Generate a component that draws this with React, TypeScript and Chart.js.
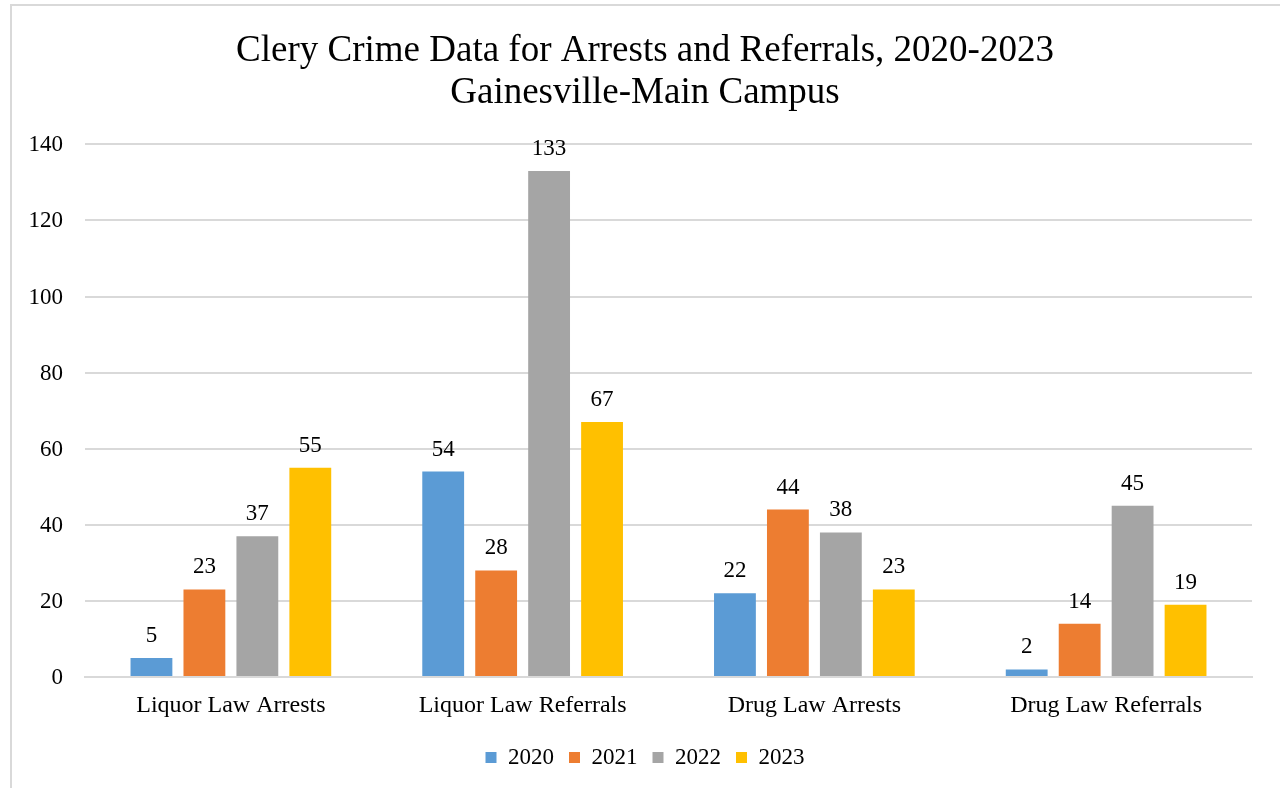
import React, { useEffect, useRef } from "react";
import { Chart, registerables } from "chart.js";

Chart.register(...registerables);

const categories = ["Liquor Law Arrests", "Liquor Law Referrals", "Drug Law Arrests", "Drug Law Referrals"];
const seriesNames = ["2020", "2021", "2022", "2023"];
const values2020 = [5, 54, 22, 2];
const values2021 = [23, 28, 44, 14];
const values2022 = [37, 133, 38, 45];
const values2023 = [55, 67, 23, 19];
const seriesColors = ["#5B9BD5", "#ED7D31", "#A5A5A5", "#FFC000"];
const titleLines = ["Clery Crime Data for Arrests and Referrals, 2020-2023", "Gainesville-Main Campus"];
const yMin = 0;
const yMax = 140;
const yStep = 20;

const FONT = "'Liberation Serif', 'Times New Roman', serif";

const dataLabelPlugin = {
  id: "dataLabels",
  afterDatasetsDraw(chart: any) {
    const ctx = chart.ctx;
    ctx.save();
    ctx.font = `23px ${FONT}`;
    ctx.fillStyle = "#000";
    ctx.textAlign = "center";
    ctx.textBaseline = "alphabetic";
    chart.data.datasets.forEach((ds: any, i: number) => {
      const meta = chart.getDatasetMeta(i);
      meta.data.forEach((el: any, j: number) => {
        ctx.fillText(String(ds.data[j]), el.x, el.y - 16);
      });
    });
    ctx.restore();
  },
};

// Y tick labels drawn from the library's scale ticks (avoids clipping to the narrow axis box)
const yLabelPlugin = {
  id: "yLabels",
  afterDraw(chart: any) {
    const scale = chart.scales.y;
    const ctx = chart.ctx;
    ctx.save();
    ctx.font = `23px ${FONT}`;
    ctx.fillStyle = "#000";
    ctx.textAlign = "right";
    ctx.textBaseline = "middle";
    scale.ticks.forEach((t: any) => {
      ctx.fillText(String(t.value), chart.chartArea.left - 22, scale.getPixelForValue(t.value) + 1);
    });
    ctx.restore();
  },
};

export default function App() {
  const ref = useRef<HTMLCanvasElement | null>(null);
  useEffect(() => {
    if (!ref.current) return;
    const allValues = [values2020, values2021, values2022, values2023];
    const chart = new Chart(ref.current, {
      type: "bar",
      data: {
        labels: categories,
        datasets: seriesNames.map((name, i) => ({
          label: name,
          data: allValues[i],
          backgroundColor: seriesColors[i],
          borderWidth: 0,
          categoryPercentage: 0.726,
          barPercentage: 0.79,
        })),
      },
      options: {
        responsive: false,
        animation: false,
        layout: { padding: { left: 38, right: 28, top: 0, bottom: 9 } },
        plugins: {
          title: {
            display: true,
            text: titleLines,
            color: "#000",
            font: { family: FONT, size: 37, weight: "normal", lineHeight: 1.14 },
            padding: { top: 30, bottom: 30 },
          },
          legend: {
            position: "bottom",
            labels: {
              color: "#000",
              font: { family: FONT, size: 23 },
              boxWidth: 11,
              boxHeight: 11,
              padding: 15,
            },
          },
          tooltip: { enabled: false },
        },
        scales: {
          x: {
            grid: { display: false, drawTicks: false },
            border: { display: true, color: "#d9d9d9", width: 2 },
            ticks: { color: "#000", font: { family: FONT, size: 24 }, padding: 14, maxRotation: 0 },
            afterFit(scale: any) {
              scale.height = 54;
            },
          },
          y: {
            min: yMin,
            max: yMax,
            grid: { color: "#d9d9d9", lineWidth: 2, drawTicks: false },
            border: { display: false },
            ticks: { stepSize: yStep, display: false },
            afterFit(scale: any) {
              scale.width = 47;
            },
          },
        },
      },
      plugins: [dataLabelPlugin, yLabelPlugin],
    });
    return () => chart.destroy();
  }, []);

  return (
    <>
      <div
        style={{
          position: "fixed",
          left: 10,
          top: 4,
          width: 1400,
          height: 900,
          border: "2px solid #d9d9d9",
          boxSizing: "border-box",
          background: "#fff",
        }}
      />
      <canvas
        ref={ref}
        width={1280}
        height={788}
        style={{ position: "fixed", left: 0, top: 0, width: 1280, height: 788 }}
      />
    </>
  );
}
